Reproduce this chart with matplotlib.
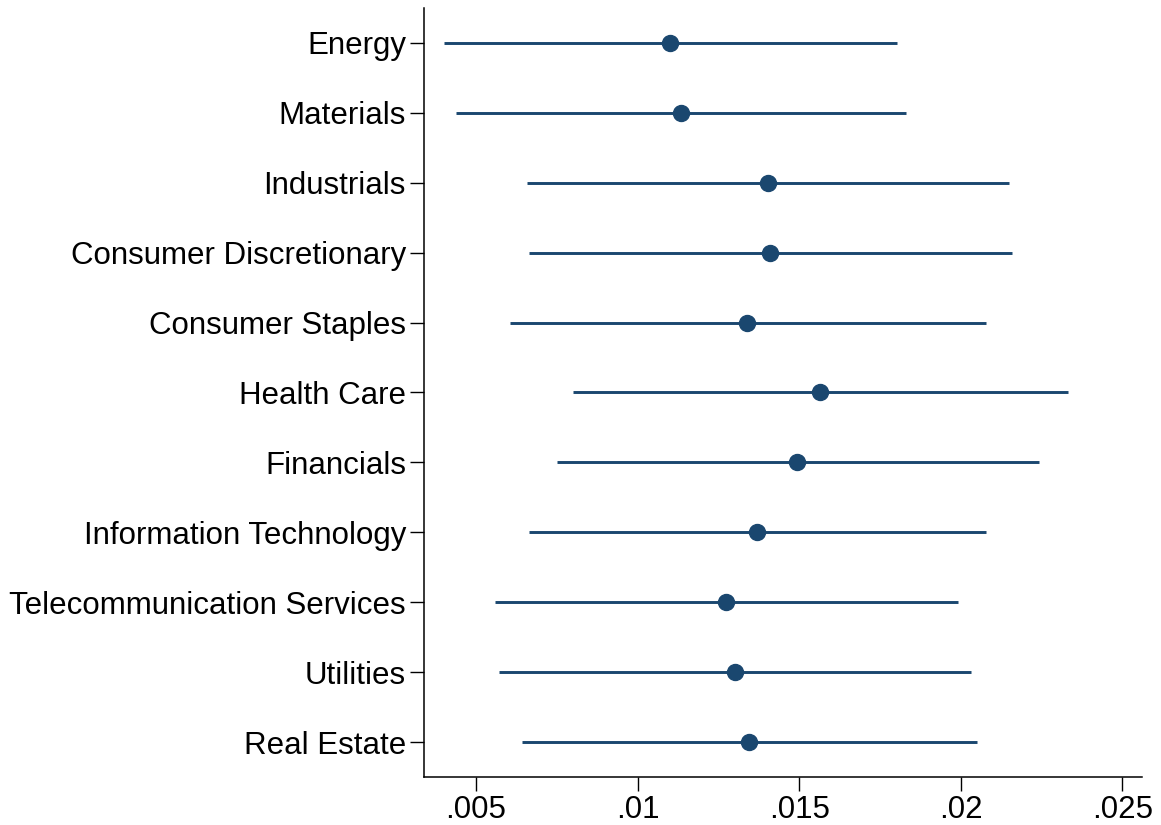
import numpy as np
import matplotlib.pyplot as plt

plt.rcParams['font.family'] = ['Liberation Sans', 'DejaVu Sans']

sectors = ['Energy', 'Materials', 'Industrials', 'Consumer Discretionary',
           'Consumer Staples', 'Health Care', 'Financials',
           'Information Technology', 'Telecommunication Services',
           'Utilities', 'Real Estate']
coef = [0.01100, 0.01134, 0.01403, 0.01409, 0.01338, 0.01564,
        0.01493, 0.01369, 0.01273, 0.01301, 0.01344]
ci_lo = [0.00401, 0.00437, 0.00657, 0.00663, 0.00605, 0.00800,
         0.00750, 0.00663, 0.00558, 0.00571, 0.00642]
ci_hi = [0.01802, 0.01832, 0.02150, 0.02159, 0.02078, 0.02333,
         0.02243, 0.02078, 0.01991, 0.02031, 0.02049]
xticks = [0.005, 0.01, 0.015, 0.02, 0.025]
xlabels = ['.005', '.01', '.015', '.02', '.025']

navy = '#1a476f'

fig = plt.figure(figsize=(11.61, 8.25), dpi=100)
ax = fig.add_axes([0.3652, 0.0582, 0.6182, 0.9321])

y = np.arange(len(sectors))
ax.hlines(y, ci_lo, ci_hi, color=navy, lw=2.1)
ax.plot(coef, y, 'o', color=navy, ms=11.5)

ax.set_ylim(len(sectors) - 0.5, -0.5)
ax.set_xlim(0.00339, 0.0256)
ax.set_yticks(y)
ax.set_yticklabels(sectors)
ax.set_xticks(xticks)
ax.set_xticklabels(xlabels)
ax.tick_params(labelsize=22.5, length=10, width=1, pad=3)

for s in ['top', 'right']:
    ax.spines[s].set_visible(False)
for s in ['left', 'bottom']:
    ax.spines[s].set_linewidth(1.1)

fig.savefig('out.png', dpi=100)
